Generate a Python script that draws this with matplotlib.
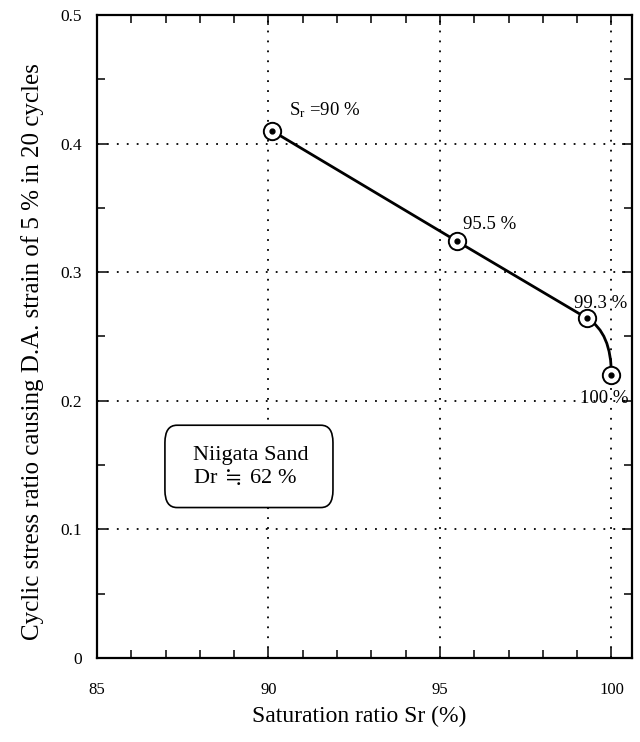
import matplotlib
matplotlib.use("Agg")
import matplotlib.pyplot as plt
from matplotlib.path import Path
from matplotlib.patches import PathPatch, FancyBboxPatch
from matplotlib.ticker import MultipleLocator

# ---- data ----
sat_ratio = [90.1, 95.5, 99.3, 100.0]          # Saturation ratio Sr (%)
stress_ratio = [0.41, 0.324, 0.264, 0.22]      # cyclic stress ratio
point_labels = [r"$\mathrm{S_r}$ =90 %", "95.5 %", "99.3 %", "100 %"]
x_ticks = [85, 90, 95, 100]
y_ticks = [0, 0.1, 0.2, 0.3, 0.4, 0.5]
y_tick_labels = ["0", "0.1", "0.2", "0.3", "0.4", "0.5"]
box_text = "Niigata Sand\nDr $\\fallingdotseq$ 62 %"

plt.rcParams['font.family'] = ['Liberation Serif', 'DejaVu Sans']
plt.rcParams['mathtext.fontset'] = 'custom'
plt.rcParams['mathtext.rm'] = 'Liberation Serif'
plt.rcParams['mathtext.it'] = 'Liberation Serif:italic'

fig = plt.figure(figsize=(6.4, 7.42), dpi=100)
ax = fig.add_axes([0.1516, 0.1132, 0.8359, 0.8666])

ax.set_xlim(85, 100.6)
ax.set_ylim(0, 0.5)

# grid (dotted) at inner major ticks
for gx in x_ticks[1:]:
    ax.axvline(gx, color='black', lw=1.3, ls=(0, (1, 4.5)), zorder=1)
for gy in y_ticks[1:-1]:
    ax.axhline(gy, color='black', lw=1.3, ls=(0, (1, 4.5)), zorder=1)

# line: straight segments then a curved final segment
ax.plot(sat_ratio[:3], stress_ratio[:3], color='black', lw=2.0, zorder=3)
slope = (stress_ratio[2] - stress_ratio[1]) / (sat_ratio[2] - sat_ratio[1])
ctrl = (sat_ratio[3], stress_ratio[2] + slope * (sat_ratio[3] - sat_ratio[2]))
path = Path([(sat_ratio[2], stress_ratio[2]), ctrl, (sat_ratio[3], stress_ratio[3])],
            [Path.MOVETO, Path.CURVE3, Path.CURVE3])
ax.add_patch(PathPatch(path, fill=False, lw=2.0, edgecolor='black', zorder=3))

# markers: open circle with center dot
ax.plot(sat_ratio, stress_ratio, ls='none', marker='o', ms=12.5, mfc='white',
        mec='black', mew=1.4, zorder=4)
ax.plot(sat_ratio, stress_ratio, ls='none', marker='o', ms=3.5, mfc='black',
        mec='black', zorder=5)

# point labels
label_pos = [(90.6, 0.426), (95.67, 0.337), (98.92, 0.276), (99.08, 0.202)]
for (lx, ly), txt in zip(label_pos, point_labels):
    ax.text(lx, ly, txt, fontsize=13.5, va='center', ha='left', zorder=6)

# text box (rounded, white fill)
box = FancyBboxPatch((86.98, 0.117), 91.88 - 86.98, 0.181 - 0.117,
                     boxstyle='round,pad=0,rounding_size=0.35',
                     mutation_aspect=0.5 / 15.6 * 643 / 535,
                     fc='white', ec='black', lw=1.2, zorder=5)
ax.add_patch(box)
ax.text(87.8, 0.1485, box_text, fontsize=16, ha='left', va='center',
        linespacing=1.15, zorder=6, math_fontfamily='stix')

# ticks
ax.set_xticks(x_ticks)
ax.set_xticklabels([str(v) for v in x_ticks])
ax.set_yticks(y_ticks)
ax.set_yticklabels(y_tick_labels)
ax.xaxis.set_minor_locator(MultipleLocator(1))
ax.yaxis.set_minor_locator(MultipleLocator(0.05))
ax.tick_params(which='both', direction='in', top=True, right=True, width=1.1)
ax.tick_params(which='major', length=7)
ax.tick_params(which='minor', length=6)
ax.tick_params(axis='x', which='major', pad=17, labelsize=12)
ax.tick_params(axis='y', which='major', pad=11, labelsize=12.5)

for s in ax.spines.values():
    s.set_linewidth(1.6)

ax.set_xlabel("Saturation ratio Sr (%)", fontsize=17)
ax.set_ylabel("Cyclic stress ratio causing D.A. strain of 5 % in 20 cycles",
              fontsize=18)
ax.xaxis.set_label_coords(0.49, -0.074)
ax.yaxis.set_label_coords(-0.10, 0.476)

fig.savefig("out.png", dpi=100)
